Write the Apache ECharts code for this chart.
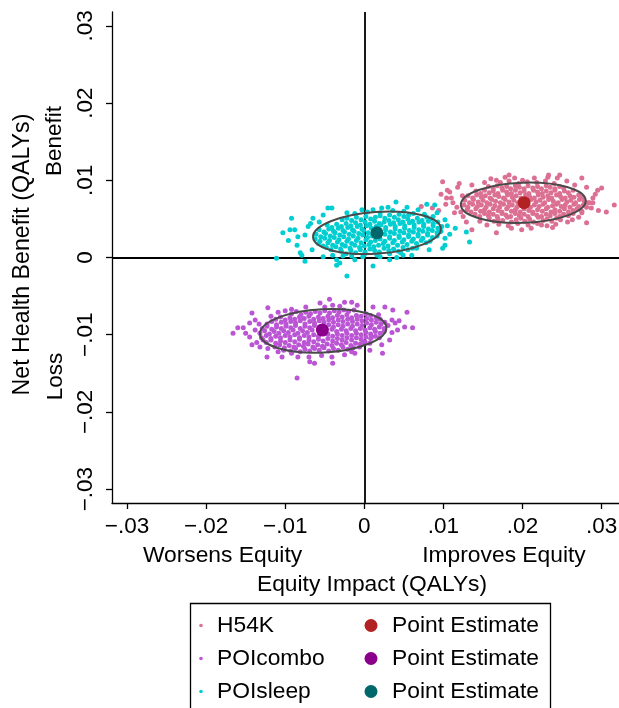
<!DOCTYPE html>
<html><head><meta charset="utf-8">
<script src="https://cdn.jsdelivr.net/npm/echarts@6/dist/echarts.min.js"></script>
<style>html,body{margin:0;padding:0;background:#fff}#c{width:619px;height:708px}</style>
</head><body><div id="c"></div>
<script>
// ---- data (QALYs) ----
const seriesNames = ['H54K', 'POIcombo', 'POIsleep'];
const estimateName = 'Point Estimate';
const xTicks = [-0.03, -0.02, -0.01, 0, 0.01, 0.02, 0.03];
const yTicks = [-0.03, -0.02, -0.01, 0, 0.01, 0.02, 0.03];

const h54k = [
[.0170,.0043],[.0182,.0041],[.0194,.0044],[.0207,.0042],[.0219,.0044],[.0231,.0041],[.0242,.0043],
[.0158,.0051],[.0164,.0047],[.0169,.0050],[.0175,.0048],[.0181,.0052],[.0186,.0046],[.0192,.0049],[.0198,.0051],[.0203,.0047],[.0209,.0050],[.0214,.0046],[.0220,.0052],[.0226,.0048],[.0231,.0050],[.0237,.0047],[.0243,.0051],[.0248,.0049],
[.0140,.0056],[.0146,.0053],[.0152,.0057],[.0157,.0054],[.0163,.0056],[.0168,.0053],[.0174,.0057],[.0179,.0055],[.0185,.0053],[.0191,.0057],[.0196,.0054],[.0202,.0056],[.0207,.0053],[.0213,.0057],[.0218,.0055],[.0224,.0053],[.0230,.0056],[.0235,.0054],[.0241,.0057],[.0247,.0053],[.0252,.0056],[.0258,.0054],[.0264,.0057],
[.0130,.0062],[.0135,.0059],[.0141,.0063],[.0147,.0060],[.0152,.0062],[.0158,.0059],[.0163,.0063],[.0169,.0061],[.0174,.0059],[.0180,.0063],[.0186,.0060],[.0191,.0062],[.0197,.0059],[.0202,.0063],[.0208,.0061],[.0213,.0059],[.0219,.0062],[.0225,.0060],[.0230,.0063],[.0236,.0059],[.0241,.0062],[.0247,.0060],[.0253,.0063],[.0258,.0059],[.0264,.0061],[.0269,.0063],[.0275,.0060],
[.0126,.0068],[.0131,.0065],[.0137,.0069],[.0143,.0066],[.0148,.0068],[.0154,.0065],[.0159,.0069],[.0165,.0067],[.0171,.0065],[.0176,.0069],[.0182,.0066],[.0187,.0068],[.0193,.0065],[.0198,.0069],[.0210,.0065],[.0215,.0068],[.0221,.0066],[.0226,.0069],[.0232,.0065],[.0238,.0067],[.0243,.0069],[.0249,.0066],[.0254,.0068],[.0260,.0065],[.0265,.0069],[.0271,.0066],[.0277,.0068],[.0281,.0065],
[.0127,.0074],[.0133,.0071],[.0138,.0075],[.0144,.0072],[.0150,.0074],[.0155,.0071],[.0161,.0075],[.0166,.0073],[.0172,.0071],[.0178,.0075],[.0183,.0072],[.0189,.0074],[.0194,.0071],[.0211,.0075],[.0217,.0072],[.0222,.0074],[.0228,.0071],[.0233,.0075],[.0239,.0073],[.0245,.0071],[.0250,.0075],[.0256,.0072],[.0261,.0074],[.0267,.0071],[.0272,.0075],[.0278,.0073],[.0283,.0071],
[.0131,.0080],[.0137,.0077],[.0142,.0081],[.0148,.0078],[.0153,.0080],[.0159,.0077],[.0165,.0081],[.0170,.0079],[.0176,.0077],[.0181,.0081],[.0187,.0078],[.0192,.0080],[.0198,.0077],[.0204,.0081],[.0209,.0079],[.0215,.0077],[.0220,.0081],[.0226,.0078],[.0232,.0080],[.0237,.0077],[.0243,.0081],[.0248,.0079],[.0254,.0077],[.0260,.0080],[.0265,.0078],[.0271,.0081],[.0276,.0078],
[.0141,.0086],[.0147,.0083],[.0152,.0087],[.0158,.0084],[.0163,.0086],[.0169,.0083],[.0175,.0087],[.0180,.0085],[.0186,.0083],[.0191,.0087],[.0197,.0084],[.0202,.0086],[.0208,.0083],[.0214,.0087],[.0219,.0085],[.0225,.0083],[.0230,.0086],[.0236,.0084],[.0241,.0087],[.0247,.0083],[.0253,.0086],[.0258,.0084],[.0264,.0087],
[.0157,.0092],[.0163,.0089],[.0168,.0093],[.0174,.0090],[.0180,.0092],[.0185,.0089],[.0191,.0093],[.0196,.0091],[.0202,.0089],[.0207,.0093],[.0213,.0090],[.0219,.0092],[.0224,.0089],[.0230,.0093],[.0235,.0091],[.0241,.0089],[.0247,.0092],[.0252,.0090],
[.0172,.0097],[.0183,.0099],[.0195,.0096],[.0206,.0098],[.0218,.0097],[.0229,.0099],[.0240,.0096],
[.0183,.0107],[.0190,.0103],[.0200,.0100],[.0215,.0103],[.0244,.0103],[.0247,.0107],[.0275,.0103],[.0167,.0100],[.0152,.0097],[.0136,.0094],
[.0099,.0098],[.0118,.0091],[.0108,.0085],[.0110,.0077],[.0117,.0065],[.0114,.0058],[.0129,.0046],[.0136,.0036],[.0167,.0032],[.0186,.0038],
[.0199,.0036],[.0224,.0042],[.0257,.0046],[.0281,.0045],[.0275,.0058],[.0287,.0064],[.0295,.0087],[.0300,.0090],[.0289,.0077],[.0306,.0059],
[.0316,.0068],[.0285,.0071],[.0266,.0094],[.0281,.0091],[.0104,.0077],[.0105,.0087],[.0120,.0096],[.0072,.0066],[.0086,.0064],[.0094,.0061],
[.0122,.0059],[.0124,.0080],[.0146,.0047],[.0155,.0042],[.0263,.0049],[.0271,.0052],[.0289,.0071],[.0292,.0082],[.0160,.0102],[.0232,.0104],
[.0256,.0099],[.0211,.0038],[.0238,.0039],[.0103,.0069],[.0112,.0071],[.0097,.0082],[.0125,.0053],[.0233,.0107],[.0178,.0104],[.0296,.0061]
];

const poicombo = [
[-.0093,-.0121],[-.0087,-.0118],[-.0081,-.0122],[-.0075,-.0119],[-.0069,-.0121],[-.0063,-.0118],[-.0057,-.0120],[-.0051,-.0117],[-.0045,-.0121],[-.0039,-.0118],[-.0033,-.0120],[-.0027,-.0116],[-.0021,-.0119],[-.0014,-.0117],
[-.0113,-.0116],[-.0107,-.0113],[-.0101,-.0117],[-.0095,-.0114],[-.0089,-.0116],[-.0083,-.0113],[-.0077,-.0115],[-.0071,-.0112],[-.0065,-.0116],[-.0059,-.0113],[-.0053,-.0115],[-.0047,-.0112],[-.0041,-.0114],[-.0035,-.0111],[-.0029,-.0113],[-.0023,-.0110],[-.0017,-.0114],[-.0011,-.0111],[-.0005,-.0112],[.0001,-.0109],[.0007,-.0111],
[-.0124,-.0110],[-.0118,-.0107],[-.0112,-.0111],[-.0106,-.0108],[-.0100,-.0110],[-.0094,-.0107],[-.0088,-.0109],[-.0082,-.0106],[-.0076,-.0110],[-.0070,-.0107],[-.0064,-.0109],[-.0058,-.0106],[-.0052,-.0108],[-.0046,-.0105],[-.0040,-.0108],[-.0034,-.0105],[-.0028,-.0107],[-.0022,-.0104],[-.0016,-.0107],[-.0010,-.0104],[-.0004,-.0106],[.0002,-.0103],[.0008,-.0105],[.0014,-.0102],[.0019,-.0104],
[-.0130,-.0104],[-.0124,-.0101],[-.0118,-.0105],[-.0112,-.0102],[-.0106,-.0104],[-.0100,-.0101],[-.0094,-.0103],[-.0088,-.0100],[-.0082,-.0104],[-.0076,-.0101],[-.0070,-.0103],[-.0064,-.0100],[-.0058,-.0102],[-.0046,-.0099],[-.0040,-.0102],[-.0034,-.0099],[-.0028,-.0101],[-.0022,-.0098],[-.0016,-.0101],[-.0010,-.0098],[-.0004,-.0100],[.0002,-.0097],[.0008,-.0099],[.0014,-.0096],[.0020,-.0098],[.0025,-.0096],
[-.0132,-.0098],[-.0126,-.0095],[-.0120,-.0099],[-.0114,-.0096],[-.0108,-.0098],[-.0102,-.0095],[-.0096,-.0097],[-.0090,-.0094],[-.0084,-.0098],[-.0078,-.0095],[-.0072,-.0097],[-.0066,-.0094],[-.0041,-.0093],[-.0035,-.0096],[-.0029,-.0093],[-.0023,-.0095],[-.0017,-.0092],[-.0011,-.0095],[-.0005,-.0092],[.0001,-.0094],[.0007,-.0091],[.0013,-.0093],[.0019,-.0090],[.0025,-.0092],
[-.0129,-.0092],[-.0123,-.0089],[-.0117,-.0093],[-.0111,-.0090],[-.0105,-.0092],[-.0099,-.0089],[-.0093,-.0091],[-.0087,-.0088],[-.0081,-.0092],[-.0075,-.0089],[-.0069,-.0091],[-.0063,-.0088],[-.0057,-.0090],[-.0045,-.0087],[-.0039,-.0090],[-.0033,-.0087],[-.0027,-.0089],[-.0021,-.0086],[-.0015,-.0089],[-.0009,-.0086],[-.0003,-.0088],[.0003,-.0085],[.0009,-.0087],[.0015,-.0084],[.0021,-.0086],[.0026,-.0084],
[-.0123,-.0086],[-.0117,-.0083],[-.0111,-.0087],[-.0105,-.0084],[-.0099,-.0086],[-.0093,-.0083],[-.0087,-.0085],[-.0081,-.0082],[-.0075,-.0086],[-.0069,-.0083],[-.0063,-.0085],[-.0057,-.0082],[-.0051,-.0084],[-.0045,-.0081],[-.0039,-.0084],[-.0033,-.0081],[-.0027,-.0083],[-.0021,-.0080],[-.0015,-.0083],[-.0009,-.0080],[-.0003,-.0082],[.0003,-.0079],[.0009,-.0081],[.0015,-.0078],[.0020,-.0080],
[-.0112,-.0080],[-.0106,-.0077],[-.0100,-.0081],[-.0094,-.0078],[-.0088,-.0080],[-.0082,-.0077],[-.0076,-.0079],[-.0070,-.0076],[-.0064,-.0080],[-.0058,-.0077],[-.0052,-.0079],[-.0046,-.0076],[-.0040,-.0078],[-.0034,-.0075],[-.0028,-.0077],[-.0022,-.0074],[-.0016,-.0078],[-.0010,-.0075],[-.0004,-.0076],[.0002,-.0073],[.0008,-.0075],
[-.0092,-.0073],[-.0086,-.0070],[-.0080,-.0074],[-.0074,-.0071],[-.0068,-.0073],[-.0062,-.0070],[-.0056,-.0072],[-.0050,-.0069],[-.0044,-.0072],[-.0038,-.0069],[-.0032,-.0071],[-.0026,-.0068],[-.0020,-.0070],[-.0013,-.0068],
[-.0166,-.0098],[-.0160,-.0091],[-.0153,-.0091],[-.0145,-.0085],[-.0142,-.0072],[-.0138,-.0081],[-.0145,-.0103],[-.0136,-.0110],[-.0142,-.0113],[-.0132,-.0116],
[-.0123,-.0129],[-.0122,-.0118],[-.0109,-.0122],[-.0104,-.0129],[-.0092,-.0124],[-.0084,-.0129],[-.0069,-.0135],[-.0063,-.0137],[-.0040,-.0137],[-.0041,-.0129],
[-.0025,-.0126],[-.0085,-.0156],[-.0122,-.0065],[-.0109,-.0071],[-.0092,-.0067],[-.0056,-.0059],[-.0050,-.0064],[-.0044,-.0054],[-.0040,-.0062],[-.0025,-.0058],
[-.0016,-.0058],[-.0009,-.0062],[.0011,-.0064],[.0026,-.0064],[.0036,-.0068],[.0054,-.0071],[.0035,-.0081],[.0042,-.0094],[.0061,-.0091],[.0051,-.0090],
[.0032,-.0107],[.0022,-.0113],[.0023,-.0124],[.0007,-.0120],[-.0006,-.0116],[-.0012,-.0124],[-.0002,-.0111],[.0009,-.0103],[.0039,-.0085],[.0035,-.0097],
[-.0138,-.0094],[-.0128,-.0107],[-.0118,-.0076],[-.0100,-.0069],[-.0074,-.0064],[-.0031,-.0063],[.0018,-.0074],[.0030,-.0088],[-.0054,-.0127],[-.0016,-.0122],
[-.0102,-.0120],[-.0150,-.0098],[.0044,-.0082],[-.0070,-.0129],[-.0133,-.0086]
];

const poisleep = [
[-.0016,.0002],[.0000,.0004],[.0016,.0003],[.0032,.0005],[.0046,.0006],
[-.0029,.0008],[-.0023,.0005],[-.0017,.0009],[-.0011,.0006],[-.0005,.0010],[.0001,.0007],[.0007,.0011],[.0013,.0009],[.0019,.0007],[.0025,.0012],[.0031,.0009],[.0037,.0011],[.0043,.0008],[.0049,.0013],[.0055,.0010],[.0061,.0012],
[-.0048,.0013],[-.0042,.0010],[-.0036,.0014],[-.0030,.0011],[-.0024,.0015],[-.0018,.0012],[-.0012,.0016],[-.0006,.0013],[.0000,.0015],[.0006,.0017],[.0012,.0014],[.0018,.0016],[.0024,.0018],[.0030,.0015],[.0036,.0019],[.0042,.0016],[.0048,.0020],[.0054,.0017],[.0060,.0021],[.0066,.0018],[.0072,.0022],[.0078,.0019],[.0083,.0021],
[-.0058,.0018],[-.0052,.0015],[-.0046,.0019],[-.0040,.0016],[-.0034,.0020],[-.0028,.0017],[-.0022,.0021],[-.0016,.0018],[-.0010,.0022],[-.0004,.0019],[.0002,.0023],[.0008,.0020],[.0014,.0022],[.0020,.0024],[.0026,.0021],[.0032,.0025],[.0038,.0022],[.0044,.0026],[.0050,.0023],[.0056,.0027],[.0062,.0024],[.0068,.0028],[.0074,.0025],[.0080,.0029],[.0086,.0026],[.0092,.0028],
[-.0062,.0024],[-.0056,.0021],[-.0050,.0025],[-.0044,.0022],[-.0038,.0026],[-.0032,.0023],[-.0026,.0027],[-.0020,.0024],[-.0014,.0028],[-.0008,.0025],[-.0002,.0029],[.0004,.0026],[.0010,.0028],[.0026,.0030],[.0032,.0027],[.0038,.0031],[.0044,.0028],[.0050,.0032],[.0056,.0029],[.0062,.0033],[.0068,.0030],[.0074,.0034],[.0080,.0031],[.0086,.0035],[.0092,.0032],[.0097,.0034],
[-.0061,.0030],[-.0055,.0027],[-.0049,.0031],[-.0043,.0028],[-.0037,.0032],[-.0031,.0029],[-.0025,.0033],[-.0019,.0030],[-.0013,.0034],[-.0007,.0031],[-.0001,.0035],[.0005,.0032],[.0027,.0036],[.0033,.0033],[.0039,.0037],[.0045,.0034],[.0051,.0038],[.0057,.0035],[.0063,.0039],[.0069,.0036],[.0075,.0040],[.0081,.0037],[.0087,.0041],[.0093,.0038],[.0098,.0040],
[-.0057,.0036],[-.0051,.0033],[-.0045,.0037],[-.0039,.0034],[-.0033,.0038],[-.0027,.0035],[-.0021,.0039],[-.0015,.0036],[-.0009,.0040],[-.0003,.0037],[.0003,.0041],[.0009,.0038],[.0015,.0040],[.0021,.0042],[.0027,.0039],[.0033,.0043],[.0039,.0040],[.0045,.0044],[.0051,.0041],[.0057,.0045],[.0063,.0042],[.0069,.0046],[.0075,.0043],[.0081,.0047],[.0087,.0044],[.0093,.0046],
[-.0047,.0042],[-.0041,.0039],[-.0035,.0043],[-.0029,.0040],[-.0023,.0044],[-.0017,.0041],[-.0011,.0045],[-.0005,.0042],[.0001,.0046],[.0007,.0043],[.0013,.0047],[.0019,.0044],[.0025,.0046],[.0031,.0048],[.0037,.0045],[.0043,.0049],[.0049,.0046],[.0055,.0050],[.0061,.0047],[.0067,.0051],[.0073,.0048],[.0079,.0052],[.0084,.0050],
[-.0028,.0049],[-.0022,.0051],[-.0016,.0048],[-.0010,.0052],[-.0004,.0049],[.0002,.0053],[.0008,.0050],[.0014,.0052],[.0020,.0054],[.0026,.0051],[.0032,.0055],[.0038,.0052],[.0044,.0056],[.0050,.0053],[.0056,.0055],[.0062,.0057],
[-.0012,.0057],[.0004,.0059],[.0020,.0058],[.0036,.0061],[.0050,.0060],
[-.0103,.0032],[-.0092,.0051],[-.0094,.0036],[-.0084,.0027],[-.0085,.0016],[-.0075,.0029],[-.0071,.0040],[-.0065,.0051],[-.0079,.0003],[-.0075,-.0005],
[-.0052,.0055],[-.0046,.0064],[-.0041,.0064],[-.0022,.0058],[-.0003,.0062],[.0011,.0062],[.0022,.0064],[.0040,.0072],[.0054,.0065],[.0068,.0062],
[.0079,.0069],[.0089,.0068],[.0092,.0058],[.0102,.0049],[.0102,.0025],[.0099,.0012],[.0095,.0033],[.0066,.0012],[.0049,.0003],[.0032,-.0003],
[.0041,.0000],[.0011,-.0011],[-.0022,-.0024],[-.0031,-.0007],[-.0035,-.0003],[-.0052,.0001],[-.0040,.0003],[-.0002,.0001],[.0020,.0001],[-.0027,.0002],
[.0133,.0020],[.0129,.0033],[.0102,.0016],[-.0111,-.0001],[-.0081,.0006],[-.0088,.0036],[-.0035,-.0010],[-.0066,.0010],[-.0068,.0044],[.0105,.0041],
[.0076,.0056],[.0082,.0010],[.0060,.0003],[-.0012,-.0003],[.0108,.0030],[-.0057,.0046],[.0030,.0065],[-.0096,.0022],[.0115,.0038],[.0087,.0053]
];

const h54kEstimate = [[.0202, .0071]];
const poicomboEstimate = [[-.0053, -.0094]];
const poisleepEstimate = [[.0016, .0032]];

// ellipse: [centerX, centerY, semiAxisX, semiAxisY, tiltDeg]
const h54kEllipse = [[.0201, .0071, .0079, .0026, 2]];
const poicomboEllipse = [[-.0052, -.0095, .0080, .0028, 3]];
const poisleepEllipse = [[.0016, .0032, .0081, .0027, 4]];

// ---- styles ----
const cloudColors = ['#DB7093', '#BA55D3', '#00CED1'];
const estColors = ['#B22222', '#8B008B', '#00686A'];
const FONT = '"Liberation Sans", Arial, Helvetica, sans-serif';

function fmt(v) {
  if (Math.abs(v) < 1e-9) return '0';
  const s = Math.abs(v).toFixed(2).replace(/^0/, '');
  return (v < 0 ? '\u2212' : '') + s;
}

const clouds = [h54k, poicombo, poisleep];
const estimates = [h54kEstimate, poicomboEstimate, poisleepEstimate];
const ellipses = [h54kEllipse, poicomboEllipse, poisleepEllipse];

const series = [];
clouds.forEach((d, i) => {
  const s = {
    name: seriesNames[i], type: 'scatter', data: d, symbol: 'circle', symbolSize: 5,
    itemStyle: { color: cloudColors[i], opacity: 1 }, z: 2, silent: true
  };
  if (i === 0) {
    s.markLine = {
      silent: true, symbol: ['none', 'none'], z: 1, animation: false,
      label: { show: false },
      lineStyle: { color: '#000', width: 1.8, type: 'solid' },
      data: [{ xAxis: 0 }, { yAxis: 0 }]
    };
  }
  series.push(s);
});
ellipses.forEach((d, i) => {
  series.push({
    type: 'custom', data: d, encode: { x: 0, y: 1 }, z: 3, silent: true,
    renderItem: (params, api) => {
      const c = api.coord([api.value(0), api.value(1)]);
      const sz = api.size([api.value(2), api.value(3)]);
      return {
        type: 'ellipse', x: c[0], y: c[1], rotation: api.value(4) * Math.PI / 180,
        shape: { cx: 0, cy: 0, rx: sz[0], ry: sz[1] },
        style: { fill: null, stroke: '#4a4a4a', lineWidth: 2 }
      };
    }
  });
});
estimates.forEach((d, i) => {
  series.push({
    name: estimateName + ' ' + seriesNames[i], type: 'scatter', data: d, symbol: 'circle', symbolSize: 13,
    itemStyle: { color: estColors[i], opacity: 1 }, z: 4, silent: true
  });
});

const txt = (text, x, y, size, opts) => Object.assign({
  type: 'text', x: x, y: y, silent: true,
  style: { text: text, font: size + 'px ' + FONT, fill: '#000', align: 'center', verticalAlign: 'middle' }
}, opts || {});

const graphics = [
  txt('Net Health Benefit (QALYs)', 22.5, 254.5, 23.2, { rotation: Math.PI / 2 }),
  txt('Benefit', 54.5, 141, 22.5, { rotation: Math.PI / 2 }),
  txt('Loss', 55.5, 376.5, 22.5, { rotation: Math.PI / 2 }),
  txt('Worsens Equity', 222.5, 556, 22.8),
  txt('Improves Equity', 504, 556, 22.8),
  txt('Equity Impact (QALYs)', 372, 585, 22.8),
  { type: 'rect', shape: { x: 190.5, y: 603.5, width: 360, height: 130 }, silent: true,
    style: { fill: '#fff', stroke: '#000', lineWidth: 1.3 } }
];
const legendY = [625.5, 658.5, 691.5];
seriesNames.forEach((n, i) => {
  graphics.push({ type: 'circle', shape: { cx: 201, cy: legendY[i], r: 1.8 }, silent: true, style: { fill: cloudColors[i] } });
  graphics.push({ type: 'text', x: 217, y: legendY[i], silent: true,
    style: { text: n, font: '22.8px ' + FONT, fill: '#000', align: 'left', verticalAlign: 'middle' } });
  graphics.push({ type: 'circle', shape: { cx: 371, cy: legendY[i], r: 6.5 }, silent: true, style: { fill: estColors[i] } });
  graphics.push({ type: 'text', x: 392, y: legendY[i], silent: true,
    style: { text: estimateName, font: '22.8px ' + FONT, fill: '#000', align: 'left', verticalAlign: 'middle' } });
});

const axisCommon = {
  type: 'value', splitLine: { show: false },
  axisLine: { show: true, onZero: false, lineStyle: { color: '#000', width: 1.3 } },
  axisTick: { show: true, length: 6, inside: false, lineStyle: { color: '#000', width: 1.3 } },
  axisLabel: { color: '#000', fontSize: 22.5, fontFamily: FONT, formatter: fmt }
};

const chart = echarts.init(document.getElementById('c'), null, { renderer: 'canvas' });
chart.setOption({
  animation: false,
  backgroundColor: '#fff',
  grid: { left: 112, top: 12, width: 507, height: 491, containLabel: false, outerBoundsMode: 'none' },
  xAxis: Object.assign({}, axisCommon, {
    min: -0.0319, max: 0.0322, position: 'bottom',
    axisTick: Object.assign({}, axisCommon.axisTick, { customValues: xTicks }),
    axisLabel: Object.assign({}, axisCommon.axisLabel, { customValues: xTicks, margin: 12 })
  }),
  yAxis: Object.assign({}, axisCommon, {
    min: -0.0318, max: 0.0318, position: 'left',
    axisTick: Object.assign({}, axisCommon.axisTick, { customValues: yTicks }),
    axisLabel: Object.assign({}, axisCommon.axisLabel, { customValues: yTicks, rotate: 90, margin: 15 })
  }),
  series: series,
  graphic: graphics
});
</script>
</body></html>
